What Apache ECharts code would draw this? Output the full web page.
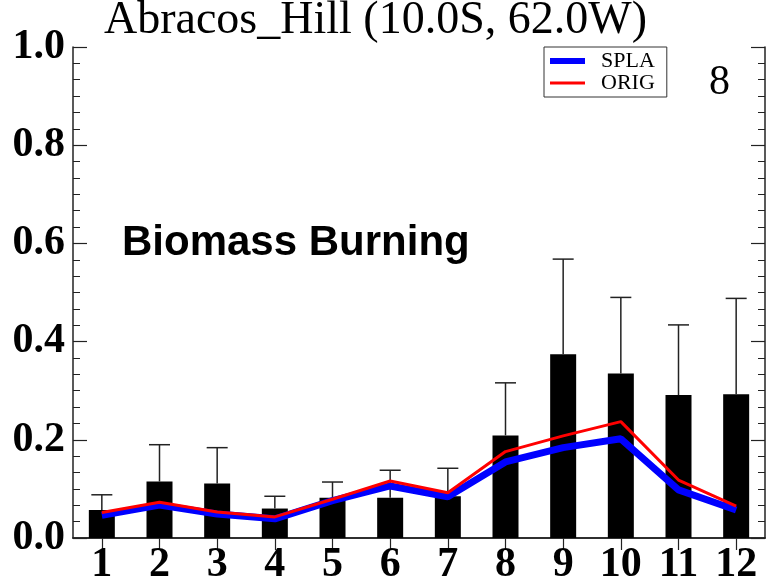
<!DOCTYPE html>
<html>
<head>
<meta charset="utf-8">
<script src="https://cdn.jsdelivr.net/npm/echarts@6/dist/echarts.min.js"></script>
<style>html,body{margin:0;padding:0;background:#fff;}#c{width:768px;height:581px;}</style>
</head>
<body>
<div id="c"></div>
<script>
const months = ['1','2','3','4','5','6','7','8','9','10','11','12'];
const obsAod = [0.057,0.115,0.111,0.060,0.082,0.082,0.085,0.209,0.374,0.335,0.291,0.293];
const obsErrTop = [0.088,0.190,0.184,0.085,0.114,0.138,0.142,0.316,0.568,0.490,0.434,0.488];
const splaAod = [0.046,0.067,0.049,0.039,0.076,0.106,0.084,0.155,0.184,0.202,0.098,0.057];
const origAod = [0.052,0.073,0.053,0.043,0.079,0.116,0.092,0.176,0.208,0.237,0.118,0.065];
const titleText = 'Abracos_Hill (10.0S, 62.0W)';
const annotation = 'Biomass Burning';
const panelNumber = '8';

const errData = months.map((m, i) => [i, obsAod[i], obsErrTop[i]]);
const axisColor = '#222';
const serif = 'Liberation Serif';

const chart = echarts.init(document.getElementById('c'), null, {renderer: 'canvas'});
chart.setOption({
  backgroundColor: '#fff',
  animation: false,
  title: {
    text: titleText, left: 104, top: -2, padding: 0,
    textStyle: {fontFamily: serif, fontWeight: 'normal', fontSize: 46, color: '#000'}
  },
  legend: {
    data: [
      {name: 'SPLA', icon: 'path://M0,0h35v6h-35z'},
      {name: 'ORIG', icon: 'path://M0,0h35v3h-35z'}
    ],
    orient: 'vertical', left: 544, top: 47,
    itemWidth: 35, itemHeight: 21, itemGap: 0,
    padding: [3, 12, 3, 6],
    backgroundColor: '#fff', borderColor: '#333', borderWidth: 1,
    textStyle: {fontFamily: serif, fontSize: 22, color: '#000', padding: [0, 0, 0, 11]}
  },
  grid: {left: 73, right: 3, top: 47, bottom: 43, outerBoundsMode: 'none', containLabel: false},
  xAxis: [
    {
      type: 'category', data: months, position: 'bottom',
      axisLine: {lineStyle: {color: axisColor, width: 1.5}},
      axisTick: {show: false},
      axisLabel: {fontFamily: serif, fontWeight: 'bold', fontSize: 42, color: '#000', margin: 6, interval: 0}
    },
    {
      type: 'category', data: months, position: 'top',
      axisLine: {lineStyle: {color: axisColor, width: 1.5}},
      axisTick: {show: true, inside: true, alignWithLabel: true, length: 12, lineStyle: {color: axisColor, width: 1.2}},
      axisLabel: {show: false}
    }
  ],
  yAxis: [
    {
      type: 'value', min: 0, max: 1, interval: 0.2, position: 'left',
      splitLine: {show: false},
      axisLine: {show: true, lineStyle: {color: axisColor, width: 1.5}},
      axisTick: {show: true, inside: true, length: 14, lineStyle: {color: axisColor, width: 1.2}},
      minorTick: {show: true, splitNumber: 6, length: 7, lineStyle: {color: axisColor, width: 1}},
      axisLabel: {fontFamily: serif, fontWeight: 'bold', fontSize: 42, color: '#000', margin: 8,
        formatter: v => v.toFixed(1)}
    },
    {
      type: 'value', min: 0, max: 1, interval: 0.2, position: 'right',
      splitLine: {show: false},
      axisLine: {show: true, lineStyle: {color: axisColor, width: 1.5}},
      axisTick: {show: true, inside: true, length: 14, lineStyle: {color: axisColor, width: 1.2}},
      minorTick: {show: true, splitNumber: 6, length: 7, lineStyle: {color: axisColor, width: 1}},
      axisLabel: {show: false}
    }
  ],
  graphic: [
    {
      type: 'text', left: 122, top: 222, z: 10,
      style: {text: annotation, fontFamily: 'Liberation Sans', fontWeight: 'bold', fontSize: 42, fill: '#000'}
    },
    {
      type: 'text', left: 709, top: 62, z: 10,
      style: {text: panelNumber, fontFamily: serif, fontSize: 42, fill: '#000'}
    }
  ],
  series: [
    {
      name: 'AERONET', type: 'bar', data: obsAod, barWidth: 26, z: 2,
      itemStyle: {color: '#000'}
    },
    {
      name: 'err', type: 'custom', data: errData, z: 3,
      renderItem: function (params, api) {
        const lo = api.coord([api.value(0), api.value(1)]);
        const hi = api.coord([api.value(0), api.value(2)]);
        const hw = 10.5;
        const st = {stroke: '#222', lineWidth: 1.5};
        return {
          type: 'group',
          children: [
            {type: 'line', shape: {x1: lo[0], y1: lo[1], x2: hi[0], y2: hi[1]}, style: st},
            {type: 'line', shape: {x1: hi[0] - hw, y1: hi[1], x2: hi[0] + hw, y2: hi[1]}, style: st}
          ]
        };
      }
    },
    {
      name: 'SPLA', type: 'line', data: splaAod, z: 4, symbol: 'none',
      color: '#0000ff', lineStyle: {color: '#0000ff', width: 7}
    },
    {
      name: 'ORIG', type: 'line', data: origAod, z: 5, symbol: 'none',
      color: '#ff0000', lineStyle: {color: '#ff0000', width: 3}
    }
  ]
});
</script>
</body>
</html>
